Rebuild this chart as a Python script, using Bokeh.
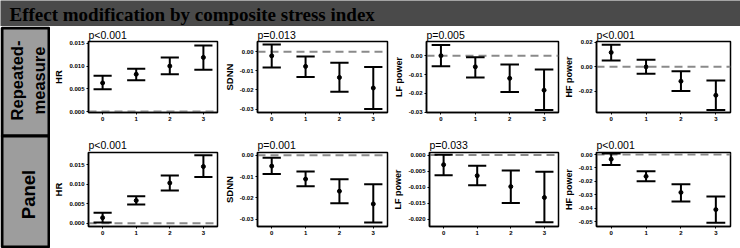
import math
from bokeh.plotting import figure
from bokeh.layouts import column, row
from bokeh.models import FixedTicker, PrintfTickFormatter, Span, Range1d
from bokeh.core.properties import value
from bokeh.embed import file_html
from bokeh.resources import INLINE

# ---------------- data ----------------
stress_levels = [0, 1, 2, 3]
stress_labels = ["0", "1", "2", "3"]

hr_rep_est = [0.0063, 0.0082, 0.0100, 0.0119]
hr_rep_lo = [0.0049, 0.0069, 0.0082, 0.0092]
hr_rep_hi = [0.0079, 0.0094, 0.0119, 0.0145]

sdnn_rep_est = [-0.0022, -0.0077, -0.0135, -0.0190]
sdnn_rep_lo = [-0.0083, -0.0132, -0.0210, -0.0300]
sdnn_rep_hi = [0.0037, -0.0025, -0.0058, -0.0080]

lf_rep_est = [0.0000, -0.0059, -0.0120, -0.0183]
lf_rep_lo = [-0.0056, -0.0115, -0.0193, -0.0288]
lf_rep_hi = [0.0057, -0.0009, -0.0047, -0.0073]

hf_rep_est = [0.0117, 0.0000, -0.0117, -0.0231]
hf_rep_lo = [0.0052, -0.0057, -0.0197, -0.0350]
hf_rep_hi = [0.0179, 0.0057, -0.0036, -0.0111]

hr_pan_est = [0.0014, 0.0058, 0.0103, 0.0145]
hr_pan_lo = [0.0002, 0.0048, 0.0084, 0.0118]
hr_pan_hi = [0.0027, 0.0069, 0.0122, 0.0174]

sdnn_pan_est = [-0.0051, -0.0112, -0.0169, -0.0229]
sdnn_pan_lo = [-0.0088, -0.0146, -0.0226, -0.0316]
sdnn_pan_hi = [-0.0012, -0.0076, -0.0113, -0.0136]

lf_pan_est = [-0.0030, -0.0064, -0.0098, -0.0132]
lf_pan_lo = [-0.0063, -0.0094, -0.0149, -0.0209]
lf_pan_hi = [0.0001, -0.0033, -0.0048, -0.0052]

hf_pan_est = [-0.0035, -0.0163, -0.0283, -0.0411]
hf_pan_lo = [-0.0078, -0.0200, -0.0351, -0.0509]
hf_pan_hi = [0.0008, -0.0125, -0.0221, -0.0313]

p_values_rep = ["p<0.001", "p=0.013", "p=0.005", "p<0.001"]
p_values_pan = ["p<0.001", "p=0.001", "p=0.033", "p<0.001"]
outcome_labels = ["HR", "SDNN", "LF power", "HF power"]
row_labels = ["Repeated-\nmeasure", "Panel"]
main_title = "Effect modification by composite stress index"

ticks_hr = [0.0, 0.005, 0.010, 0.015]
ticks_sdnn = [0.0, -0.01, -0.02, -0.03]
ticks_lf_rep = [0.0, -0.01, -0.02, -0.03]
ticks_hf_rep = [0.02, 0.0, -0.02]
ticks_lf_pan = [0.0, -0.005, -0.010, -0.015, -0.020]
ticks_hf_pan = [0.0, -0.01, -0.02, -0.03, -0.04, -0.05]

# ---------------- layout config ----------------
widths = [170, 170, 170, 180]
left_borders = [32, 31, 32, 32]
right_borders = [3, 3, 2, 10]

rows_cfg = [
    dict(height=106, top=14, bottom=20, standoff=1, pvals=p_values_rep,
         series=[(hr_rep_est, hr_rep_lo, hr_rep_hi, (-0.0002, 0.0154), ticks_hr, "%.3f"),
                 (sdnn_rep_est, sdnn_rep_lo, sdnn_rep_hi, (-0.0318, 0.0053), ticks_sdnn, "%.2f"),
                 (lf_rep_est, lf_rep_lo, lf_rep_hi, (-0.0301, 0.0075), ticks_lf_rep, "%.2f"),
                 (hf_rep_est, hf_rep_lo, hf_rep_hi, (-0.0371, 0.0206), ticks_hf_rep, "%.2f")]),
    dict(height=116, top=20, bottom=22, standoff=4, pvals=p_values_pan,
         series=[(hr_pan_est, hr_pan_lo, hr_pan_hi, (-0.00085, 0.0181), ticks_hr, "%.3f"),
                 (sdnn_pan_est, sdnn_pan_lo, sdnn_pan_hi, (-0.0335, 0.0013), ticks_sdnn, "%.2f"),
                 (lf_pan_est, lf_pan_lo, lf_pan_hi, (-0.0222, 0.0008), ticks_lf_pan, "%.3f"),
                 (hf_pan_est, hf_pan_lo, hf_pan_hi, (-0.0537, 0.0015), ticks_hf_pan, "%.2f")]),
]

SANS = "Liberation Sans"
CAP = 0.27


def make_panel(i, cfg, est, lo, hi, yr, ticks, fmt, pval):
    p = figure(width=widths[i], height=cfg["height"], output_backend="svg",
               toolbar_location=None, title=pval,
               x_range=Range1d(-0.42, 3.42), y_range=Range1d(*yr),
               min_border_left=left_borders[i], min_border_right=right_borders[i],
               min_border_top=cfg["top"], min_border_bottom=cfg["bottom"])
    p.title.text_font = SANS
    p.title.text_font_size = "10.5px"
    p.title.text_font_style = "normal"
    p.title.text_color = "black"
    p.title.align = "left"
    p.title.standoff = cfg["standoff"]
    p.title.offset = 0
    p.grid.visible = False
    p.outline_line_color = "black"
    p.outline_line_width = 1.5
    p.outline_line_alpha = 1
    p.background_fill_color = "white"

    zero = Span(location=0, dimension="width", line_color="#8a8a8a",
                line_dash="8 5", line_width=2, level="underlay")
    p.add_layout(zero)

    xs = stress_levels
    p.segment(x0=xs, y0=lo, x1=xs, y1=hi, line_color="black", line_width=2)
    p.segment(x0=[x - CAP for x in xs], y0=lo, x1=[x + CAP for x in xs], y1=lo,
              line_color="black", line_width=2)
    p.segment(x0=[x - CAP for x in xs], y0=hi, x1=[x + CAP for x in xs], y1=hi,
              line_color="black", line_width=2)
    p.scatter(x=xs, y=est, size=4, color="black")

    p.xaxis.ticker = FixedTicker(ticks=stress_levels)
    p.xaxis.major_label_overrides = {lv: lb for lv, lb in zip(stress_levels, stress_labels)}
    p.yaxis.ticker = FixedTicker(ticks=ticks)
    p.yaxis.formatter = PrintfTickFormatter(format=fmt)
    for ax in (p.xaxis[0], p.yaxis[0]):
        ax.major_label_text_font = SANS
        ax.major_label_text_font_size = "6px"
        ax.major_label_text_font_style = "bold"
        ax.major_label_text_color = "black"
        ax.major_label_standoff = 2
        ax.major_tick_in = 0
        ax.major_tick_out = 2
        ax.major_tick_line_color = "black"
        ax.minor_tick_line_color = None
        ax.axis_line_color = "black"
        ax.axis_line_width = 1.5
    p.yaxis.axis_label = outcome_labels[i]
    p.yaxis.axis_label_text_font = SANS
    p.yaxis.axis_label_text_font_size = "9.5px" if i < 2 else "9px"
    p.yaxis.axis_label_text_font_style = "bold"
    p.yaxis.axis_label_text_color = "black"
    p.yaxis.axis_label_standoff = 2
    return p


grid_rows = []
for cfg in rows_cfg:
    figs = []
    for i, (est, lo, hi, yr, ticks, fmt) in enumerate(cfg["series"]):
        figs.append(make_panel(i, cfg, est, lo, hi, yr, ticks, fmt, cfg["pvals"][i]))
    grid_rows.append(row(*figs, spacing=0))

# ---------------- title bar ----------------
tb = figure(width=740, height=26, output_backend="svg", toolbar_location=None, title=None,
            x_range=Range1d(0, 740), y_range=Range1d(26, 0),
            min_border=0, min_border_left=0, min_border_right=0,
            min_border_top=0, min_border_bottom=0)
tb.axis.visible = False
tb.grid.visible = False
tb.outline_line_color = None
tb.background_fill_color = "#4a4a4a"
tb.border_fill_color = "#4a4a4a"
tb.text(x=[9], y=[14], text=[main_title], text_font=value("Liberation Serif"),
        text_font_size="19px", text_font_style="bold", text_color="black",
        text_baseline="middle", text_align="left")

# ---------------- left row labels ----------------
lf = figure(width=50, height=222, output_backend="svg", toolbar_location=None, title=None,
            x_range=Range1d(0, 50), y_range=Range1d(248, 26),
            min_border=0, min_border_left=0, min_border_right=0,
            min_border_top=0, min_border_bottom=0)
lf.axis.visible = False
lf.grid.visible = False
lf.outline_line_color = None
lf.quad(left=[1.5, 1.5], right=[48.5, 48.5], top=[27.5, 135.5], bottom=[135.5, 246.5],
        fill_color="#9d9d9d", line_color="black", line_width=3)
lf.text(x=[16, 38], y=[80, 80], text=row_labels[0].split("\n"), angle=math.pi / 2,
        text_font=value(SANS), text_font_size="16.5px", text_font_style="bold",
        text_color="black", text_baseline="middle", text_align="center")
lf.text(x=[27.5], y=[194], text=[row_labels[1]], angle=math.pi / 2,
        text_font=value(SANS), text_font_size="18.5px", text_font_style="bold",
        text_color="black", text_baseline="middle", text_align="center")

layout = column(tb, row(lf, column(*grid_rows, spacing=0), spacing=0), spacing=0)

open("out.html", "w").write(file_html(layout, INLINE))
